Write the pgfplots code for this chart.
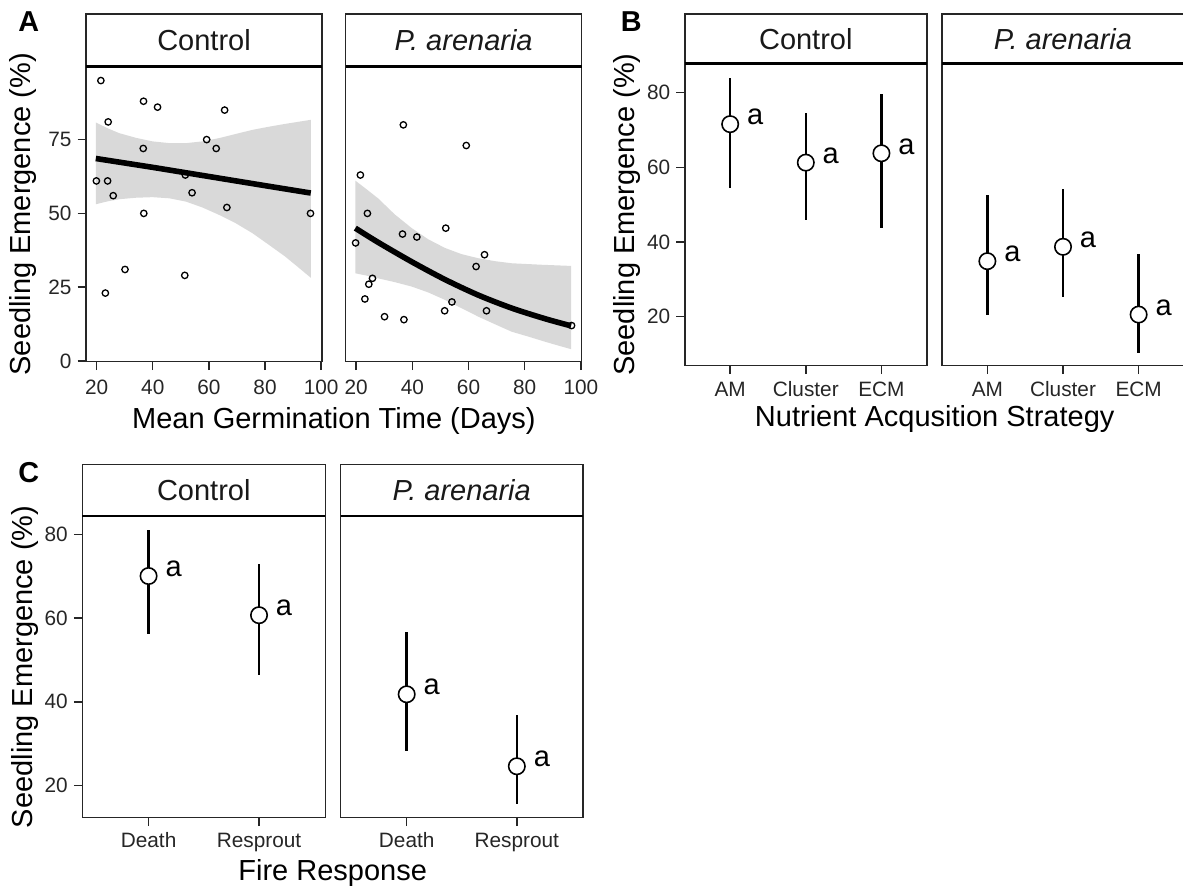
\documentclass[border=0pt]{standalone}
\usepackage{pgfplots}
\pgfplotsset{compat=1.18}
\usepackage{fontspec}
\setmainfont{Liberation Sans}
\definecolor{ribbon}{HTML}{D9D9D9}
\definecolor{frame}{HTML}{262626}
\newcommand{\bigf}{\fontsize{14.5}{17}\selectfont}
\pgfplotsset{
  facet/.style={
    scale only axis,
    anchor=north west,
    axis line style={line width=0.7pt, draw=frame},
    tick align=outside,
    major tick length=4.25pt,
    tick style={line width=0.7pt, draw=frame},
    tick pos=left,
    ticklabel style={font=\fontsize{10.4}{12}\selectfont, text=black!85},
    yticklabel style={inner sep=0pt, xshift=-2.8pt},
    /pgf/number format/assume math mode=true,
  },
  xtl/.style={xticklabel style={anchor=base, inner sep=0pt, yshift=#1}},
  ebar/.style={draw=none, error bars/.cd, y dir=both, y explicit, error mark=none,
    error bar style={draw=black, line width=1.3pt}},
  bigpt/.style={only marks, mark=*, mark size=4.1pt, mark options={fill=white, draw=black, line width=0.8pt}},
  smallpt/.style={only marks, mark=o, mark size=1.6pt, mark options={line width=0.65pt, draw=black}},
}
\begin{document}
\begin{tikzpicture}
\path[use as bounding box] (0,0) rectangle (591.5pt,-442.5pt);

% ---------------- Panel A: Control
\begin{axis}[facet, xtl=-11.9pt, name=ac, at={(43pt,-33.35pt)}, width=118pt, height=147.5pt,
  xmin=16.2, xmax=100.3, ymin=-0.25, ymax=99.7,
  xtick={20,40,60,80,100}, ytick={0,25,50,75}]
\addplot[fill=ribbon, draw=none] coordinates {(19.7,80.8) (24,78.8) (28,77.2) (34,75.6) (39.9,74.4) (46,73.8) (51.8,73.8) (57.7,74.4) (63.6,75.5) (69.5,76.9) (75.5,78.3) (81,79.3) (87,80.3) (96.3,81.7)
 (96.3,28.2) (91.5,32.0) (87,35.5) (81,39.6) (75.5,43.3) (69.5,46.7) (63.6,49.5) (57.7,52.0) (51.8,54.0) (46,55.1) (39.9,55.5) (34,55.3) (28,54.8) (24,54.1) (19.7,53.1)} -- cycle;
\addplot[smallpt] table {
x y
21.5 95
19.9 61
24.1 81
23.9 61
25.9 56
23.1 23
30.1 31
36.7 88
41.7 86
36.6 72
36.8 50
51.6 63
54.0 57
51.4 29
59.2 75
62.6 72
65.6 85
66.4 52
96.2 50
};
\addplot[line width=2.8pt, black] coordinates {(19.7,68.6) (40,65.6) (60,62.5) (80,59.4) (96.3,56.9)};
\end{axis}

% ---------------- Panel A: P. arenaria
\begin{axis}[facet, xtl=-11.9pt, name=ap, at={(172.75pt,-33.35pt)}, width=118.1pt, height=147.5pt,
  xmin=16.2, xmax=100.3, ymin=-0.25, ymax=99.7,
  xtick={20,40,60,80,100}, ytick=\empty]
\addplot[fill=ribbon, draw=none] coordinates {(19.7,61.1) (23.8,58.1) (27.8,55.1) (33.8,49.6) (39.8,45.0) (45.7,41.2) (51.6,38.3) (57.5,36.2) (63.5,34.8) (69.5,33.8) (75.4,33.1) (86,32.6) (96.5,32.2)
 (96.5,4.0) (92,5.2) (87.3,6.5) (81.5,8.2) (75.4,9.9) (69.5,12.4) (63.5,15.0) (57.5,17.9) (51.6,20.7) (45.7,23.2) (39.8,25.2) (33.8,26.7) (27.8,28.0) (23.8,28.9) (19.7,29.7)} -- cycle;
\addplot[smallpt] table {
x y
21.5 63
19.8 40
24.0 50
24.5 26
25.8 28
23.1 21
30.1 15
36.8 80
36.5 43
41.6 42
37.0 14
51.9 45
51.5 17
54.1 20
59.2 73
62.7 32
65.7 36
66.4 17
96.7 12
};
\addplot[line width=2.8pt, black, smooth] coordinates {(19.7,45.0) (27.8,40.2) (39.8,33.6) (51.6,27.6) (63.5,22.3) (75.4,17.9) (87.3,14.3) (96.5,11.9)};
\end{axis}

% ---------------- Panel B: Control
\begin{axis}[facet, xtl=-10.9pt, clip=false, name=bc, at={(342.4pt,-31.65pt)}, width=121pt, height=151.2pt,
  xmin=0.4, xmax=3.6, ymin=6.9, ymax=87.9,
  xtick={1,2,3}, xticklabels={AM,Cluster,ECM}, ytick={20,40,60,80}]
\addplot[ebar] table[x=x, y=y, y error plus=ep, y error minus=em] {
x y ep em
1 71.6 12.3 17.0
2 61.3 13.4 15.4
3 63.8 16.0 19.9
};
\addplot[bigpt] table {
x y
1 71.6
2 61.3
3 63.8
};
\node[anchor=base, xshift=12.5pt, yshift=-0.4pt, font=\bigf] at (axis cs:1,71.6) {a};
\node[anchor=base, xshift=12.5pt, yshift=-0.4pt, font=\bigf] at (axis cs:2,61.3) {a};
\node[anchor=base, xshift=12.5pt, yshift=-0.4pt, font=\bigf] at (axis cs:3,63.8) {a};
\end{axis}

% ---------------- Panel B: P. arenaria
\begin{axis}[facet, xtl=-10.9pt, clip=false, name=bp, at={(471pt,-31.65pt)}, width=121pt, height=151.2pt,
  xmin=0.4, xmax=3.6, ymin=6.9, ymax=87.9,
  xtick={1,2,3}, xticklabels={AM,Cluster,ECM}, ytick=\empty]
\addplot[ebar] table[x=x, y=y, y error plus=ep, y error minus=em] {
x y ep em
1 34.9 17.7 14.3
2 38.75 15.35 13.55
3 20.6 16.2 10.2
};
\addplot[bigpt] table {
x y
1 34.9
2 38.75
3 20.6
};
\node[anchor=base, xshift=12.5pt, yshift=-0.4pt, font=\bigf] at (axis cs:1,34.9) {a};
\node[anchor=base, xshift=12.5pt, yshift=-0.4pt, font=\bigf] at (axis cs:2,38.75) {a};
\node[anchor=base, xshift=12.5pt, yshift=-0.4pt, font=\bigf] at (axis cs:3,20.6) {a};
\end{axis}

% ---------------- Panel C: Control
\begin{axis}[facet, xtl=-10.4pt, clip=false, name=cc, at={(41.15pt,-258pt)}, width=121.5pt, height=150.85pt,
  xmin=0.4, xmax=2.6, ymin=12.3, ymax=84.4,
  xtick={1,2}, xticklabels={Death,Resprout}, ytick={20,40,60,80}]
\addplot[ebar] table[x=x, y=y, y error plus=ep, y error minus=em] {
x y ep em
1 70.06 11.04 13.96
2 60.7 12.3 14.3
};
\addplot[bigpt] table {
x y
1 70.06
2 60.7
};
\node[anchor=base, xshift=12.5pt, font=\bigf] at (axis cs:1,70.06) {a};
\node[anchor=base, xshift=12.5pt, font=\bigf] at (axis cs:2,60.7) {a};
\end{axis}

% ---------------- Panel C: P. arenaria
\begin{axis}[facet, xtl=-10.4pt, clip=false, name=cp, at={(170.3pt,-258pt)}, width=121.15pt, height=150.85pt,
  xmin=0.4, xmax=2.6, ymin=12.3, ymax=84.4,
  xtick={1,2}, xticklabels={Death,Resprout}, ytick=\empty]
\addplot[ebar] table[x=x, y=y, y error plus=ep, y error minus=em] {
x y ep em
1 41.8 14.9 13.6
2 24.6 12.3 9.0
};
\addplot[bigpt] table {
x y
1 41.8
2 24.6
};
\node[anchor=base, xshift=12.5pt, font=\bigf] at (axis cs:1,41.8) {a};
\node[anchor=base, xshift=12.5pt, font=\bigf] at (axis cs:2,24.6) {a};
\end{axis}

% ---------------- strips
\foreach \ax/\h/\lab in {ac/26.35pt/Control, bc/24.65pt/Control, cc/25.85pt/Control}{
  \draw[line width=0.7pt, draw=frame] (\ax.north west) rectangle ([yshift=\h]\ax.north east);
  \draw[line width=1.3pt, draw=black] (\ax.north west) -- (\ax.north east);
  \node[font=\bigf, text=black!90] at ([yshift=0.5*\h]\ax.north) {\lab};
}
\foreach \ax/\h in {ap/26.35pt, bp/24.65pt, cp/25.85pt}{
  \draw[line width=0.7pt, draw=frame] (\ax.north west) rectangle ([yshift=\h]\ax.north east);
  \draw[line width=1.3pt, draw=black] (\ax.north west) -- (\ax.north east);
  \node[font=\bigf\itshape, text=black!90] at ([yshift=0.5*\h]\ax.north) {P. arenaria};
}

% ---------------- axis titles
\node[anchor=base, font=\bigf] at (166.95pt,-214pt) {Mean Germination Time (Days)};
\node[anchor=base, font=\bigf] at (467.35pt,-213.35pt) {Nutrient Acqusition Strategy};
\node[anchor=base, font=\bigf] at (166.35pt,-440pt) {Fire Response};
\node[rotate=90, font=\bigf] at (11.65pt,-107.1pt) {Seedling Emergence (\%)};
\node[rotate=90, font=\bigf] at (313.35pt,-107.25pt) {Seedling Emergence (\%)};
\node[rotate=90, font=\bigf] at (12.45pt,-333.45pt) {Seedling Emergence (\%)};

% ---------------- panel letters
\node[font=\bfseries\fontsize{14.4}{17}\selectfont] at (14.4pt,-11pt) {A};
\node[font=\bfseries\fontsize{14.4}{17}\selectfont] at (315.65pt,-11pt) {B};
\node[font=\bfseries\fontsize{14.4}{17}\selectfont] at (14.35pt,-236.25pt) {C};
\end{tikzpicture}
\end{document}
